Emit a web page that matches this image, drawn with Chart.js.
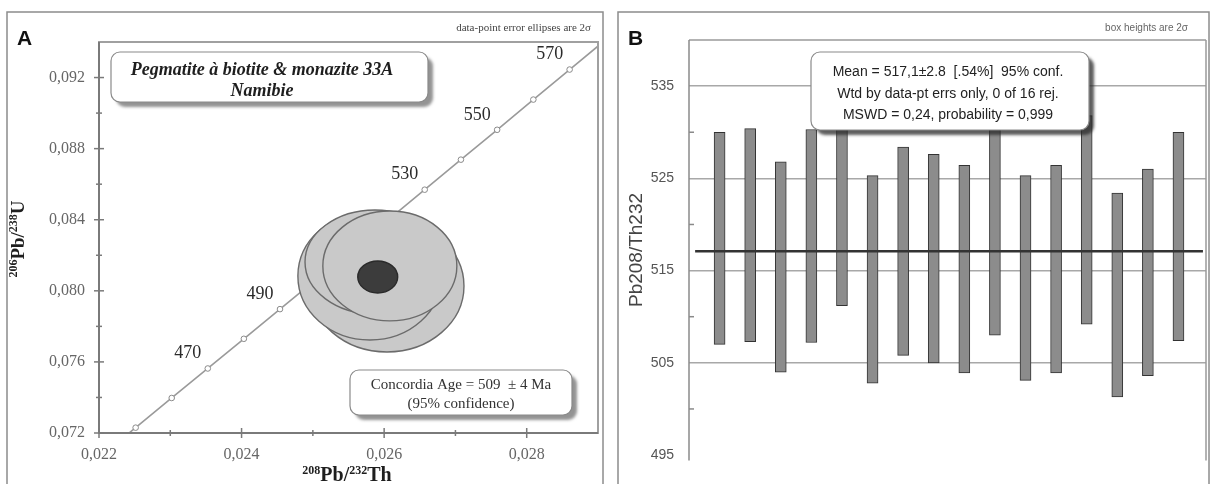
<!DOCTYPE html>
<html>
<head>
<meta charset="utf-8">
<script src="https://cdn.jsdelivr.net/npm/chart.js@4.4.1/dist/chart.umd.min.js"></script>
<style>
  html, body { margin: 0; padding: 0; background: #fff; overflow: hidden; }
  #wrap { position: relative; width: 1210px; height: 484px; }
  canvas { position: absolute; top: 0; }
  #chartA { left: 0; }
  #chartB { left: 610px; }
</style>
</head>
<body>
<div id="wrap">
  <canvas id="chartA" width="610" height="484"></canvas>
  <canvas id="chartB" width="600" height="484"></canvas>
</div>
<script>
// ---- Panel A: concordia diagram ----
const concordiaAges = [440, 450, 460, 470, 480, 490, 500, 510, 520, 530, 540, 550, 560, 570, 580];
const concordiaX = [0.022008, 0.022514, 0.023020, 0.023526, 0.024032, 0.024539, 0.025047, 0.025553,
                    0.026061, 0.026569, 0.027077, 0.027585, 0.028093, 0.028602, 0.029112];
const concordiaY = [0.07064, 0.07230, 0.07397, 0.07563, 0.07730, 0.07897, 0.08065, 0.08233,
                    0.08401, 0.08569, 0.08738, 0.08906, 0.09076, 0.09245, 0.09414];
const ageLabels = [470, 490, 530, 550, 570];

// data-point error ellipses (centre and semi-axes, in ratio units)
const ellipseX  = [0.02604, 0.02580, 0.02587, 0.02608];
const ellipseY  = [0.08027, 0.08083, 0.08162, 0.08140];
const ellipseRx = [0.00108, 0.00101, 0.00098, 0.00094];
const ellipseRy = [0.00371, 0.00360, 0.00293, 0.00309];

// concordia age ellipse
const concordiaAgeX = 0.02591;
const concordiaAgeY = 0.08078;
const concordiaAgeRx = 0.00028;
const concordiaAgeRy = 0.00090;

const xMajorTicks = [0.022, 0.024, 0.026, 0.028];
const xMinorTicks = [0.023, 0.025, 0.027];
const yMajorTicks = [0.072, 0.076, 0.080, 0.084, 0.088, 0.092];
const yMinorTicks = [0.074, 0.078, 0.082, 0.086, 0.090];

// ---- Panel B: weighted mean of Pb208/Th232 ages ----
const grainIndex = [1, 2, 3, 4, 5, 6, 7, 8, 9, 10, 11, 12, 13, 14, 15, 16];
const ageLow  = [507.0, 507.3, 504.0, 507.2, 511.2, 502.8, 505.8, 505.0, 503.9, 508.0, 503.1, 503.9, 509.2, 501.3, 503.6, 507.4];
const ageHigh = [530.0, 530.4, 526.8, 530.3, 533.5, 525.3, 528.4, 527.6, 526.4, 531.5, 525.3, 526.4, 531.8, 523.4, 526.0, 530.0];
const weightedMean = 517.1;
const meanLineX = [0.2, 16.8];
const bMajorTicks = [495, 505, 515, 525, 535];
const bMinorTicks = [500, 510, 520, 530];

const SERIF = '"Liberation Serif", "Times New Roman", serif';
const SANS = '"Liberation Sans", Arial, sans-serif';

function roundRect(ctx, x, y, w, h, r) {
    ctx.beginPath();
    ctx.moveTo(x + r, y);
    ctx.arcTo(x + w, y, x + w, y + h, r);
    ctx.arcTo(x + w, y + h, x, y + h, r);
    ctx.arcTo(x, y + h, x, y, r);
    ctx.arcTo(x, y, x + w, y, r);
    ctx.closePath();
}

function drawNoteBox(ctx, x, y, w, h, shadow) {
    ctx.save();
    roundRect(ctx, x, y, w, h, 9);
    ctx.shadowColor = shadow;
    ctx.shadowOffsetX = 5;
    ctx.shadowOffsetY = 5;
    ctx.shadowBlur = 3;
    ctx.fillStyle = '#fff';
    ctx.fill();
    ctx.restore();
    ctx.save();
    roundRect(ctx, x, y, w, h, 9);
    ctx.strokeStyle = '#8a8a8a';
    ctx.lineWidth = 1.2;
    ctx.stroke();
    ctx.restore();
}

function line(ctx, x1, y1, x2, y2) {
    ctx.beginPath();
    ctx.moveTo(x1, y1);
    ctx.lineTo(x2, y2);
    ctx.stroke();
}

// text with superscript mass numbers, centred on cx
function drawIsotopeText(ctx, parts, cx, baseline, size) {
    const big = `bold ${size}px ${SERIF}`;
    const small = `bold ${Math.round(size * 0.62)}px ${SERIF}`;
    let total = 0;
    parts.forEach(([t, sup]) => { ctx.font = sup ? small : big; total += ctx.measureText(t).width; });
    let x = cx - total / 2;
    ctx.textAlign = 'left';
    ctx.textBaseline = 'alphabetic';
    parts.forEach(([t, sup]) => {
        ctx.font = sup ? small : big;
        ctx.fillText(t, x, baseline - (sup ? size * 0.36 : 0));
        x += ctx.measureText(t).width;
    });
}

function drawDataEllipse(ctx, xs, ys, cx, cy, rx, ry, fill, stroke) {
    const px = xs.getPixelForValue(cx);
    const py = ys.getPixelForValue(cy);
    const prx = Math.abs(xs.getPixelForValue(cx + rx) - px);
    const pry = Math.abs(ys.getPixelForValue(cy + ry) - py);
    ctx.beginPath();
    ctx.ellipse(px, py, prx, pry, 0, 0, Math.PI * 2);
    ctx.fillStyle = fill;
    ctx.fill();
    ctx.lineWidth = 1.4;
    ctx.strokeStyle = stroke;
    ctx.stroke();
}

const commaFormat = (v) => v.toFixed(3).replace('.', ',');

const concordiaDecor = {
    id: 'concordiaDecor',
    afterDatasetsDraw(chart) {
        const { ctx, chartArea: a, scales: { x, y } } = chart;
        ctx.save();
        ctx.beginPath();
        ctx.rect(a.left, a.top, a.right - a.left, a.bottom - a.top);
        ctx.clip();
        for (let i = 0; i < ellipseX.length; i++) {
            drawDataEllipse(ctx, x, y, ellipseX[i], ellipseY[i], ellipseRx[i], ellipseRy[i], '#c9c9c9', '#6b6b6b');
        }
        drawDataEllipse(ctx, x, y, concordiaAgeX, concordiaAgeY, concordiaAgeRx, concordiaAgeRy, '#3c3c3c', '#2a2a2a');
        ctx.restore();

        // age labels beside their markers
        ctx.save();
        ctx.font = `18px ${SERIF}`;
        ctx.fillStyle = '#2b2b2b';
        ctx.textAlign = 'center';
        ctx.textBaseline = 'middle';
        ageLabels.forEach(age => {
            const i = concordiaAges.indexOf(age);
            ctx.fillText(String(age), x.getPixelForValue(concordiaX[i]) - 20, y.getPixelForValue(concordiaY[i]) - 15);
        });
        ctx.restore();
    },
    afterDraw(chart) {
        const { ctx, chartArea: a, scales: { x, y } } = chart;
        ctx.save();
        // plot frame and axes
        ctx.strokeStyle = '#a0a0a0';
        ctx.lineWidth = 2;
        ctx.strokeRect(a.left, a.top, a.right - a.left, a.bottom - a.top);
        ctx.strokeStyle = '#7a7a7a';
        line(ctx, a.left, a.top, a.left, a.bottom);
        line(ctx, a.left, a.bottom, a.right, a.bottom);

        // tick marks crossing the axes
        ctx.lineWidth = 1.5;
        xMajorTicks.forEach(v => { const px = x.getPixelForValue(v); line(ctx, px, a.bottom - 5, px, a.bottom + 5); });
        xMinorTicks.forEach(v => { const px = x.getPixelForValue(v); line(ctx, px, a.bottom - 3, px, a.bottom + 3); });
        yMajorTicks.forEach(v => { const py = y.getPixelForValue(v); line(ctx, a.left - 5, py, a.left + 5, py); });
        yMinorTicks.forEach(v => { const py = y.getPixelForValue(v); line(ctx, a.left - 3, py, a.left + 3, py); });

        // axis titles
        ctx.fillStyle = '#1e1e1e';
        drawIsotopeText(ctx, [['208', true], ['Pb/', false], ['232', true], ['Th', false]], 347, 481, 20);
        ctx.save();
        ctx.translate(18, 239);
        ctx.rotate(-Math.PI / 2);
        drawIsotopeText(ctx, [['206', true], ['Pb/', false], ['238', true], ['U', false]], 0, 6, 19);
        ctx.restore();

        // sample box
        drawNoteBox(ctx, 111, 52, 317, 50, 'rgba(120,120,120,0.8)');
        ctx.fillStyle = '#1e1e1e';
        ctx.textAlign = 'center';
        ctx.textBaseline = 'middle';
        ctx.font = `italic bold 18px ${SERIF}`;
        ctx.fillText('Pegmatite à biotite & monazite 33A', 262, 70);
        ctx.fillText('Namibie', 262, 91);

        // concordia age box
        drawNoteBox(ctx, 350, 370, 222, 45, 'rgba(120,120,120,0.8)');
        ctx.fillStyle = '#333';
        ctx.font = `15px ${SERIF}`;
        ctx.fillText('Concordia Age = 509  ± 4 Ma', 461, 385);
        ctx.fillText('(95% confidence)', 461, 404);

        // panel letter and note
        ctx.fillStyle = '#111';
        ctx.textAlign = 'left';
        ctx.textBaseline = 'alphabetic';
        ctx.font = `bold 21px ${SANS}`;
        ctx.fillText('A', 17, 45);
        ctx.fillStyle = '#444';
        ctx.textAlign = 'right';
        ctx.font = `11px ${SERIF}`;
        ctx.fillText('data-point error ellipses are 2σ', 591, 31);

        // outer frame
        ctx.strokeStyle = '#8c8c8c';
        ctx.lineWidth = 1.5;
        ctx.strokeRect(7, 12, 596, 500);
        ctx.restore();
    }
};

const chartA = new Chart(document.getElementById('chartA'), {
    type: 'scatter',
    data: {
        datasets: [{
            data: concordiaX.map((v, i) => ({ x: v, y: concordiaY[i] })),
            showLine: true,
            borderColor: '#9a9a9a',
            borderWidth: 1.6,
            pointRadius: (c) => (c.dataIndex === 0 || c.dataIndex === concordiaX.length - 1) ? 0 : 2.8,
            pointBackgroundColor: '#fff',
            pointBorderColor: '#8a8a8a',
            pointBorderWidth: 1
        }]
    },
    options: {
        responsive: false,
        animation: false,
        events: [],
        layout: { padding: { left: 0, right: 12, top: 42, bottom: 0 } },
        plugins: { legend: { display: false }, tooltip: { enabled: false } },
        scales: {
            x: {
                type: 'linear', min: 0.022, max: 0.029,
                grid: { display: false, drawTicks: false },
                border: { display: false },
                afterBuildTicks: (s) => { s.ticks = xMajorTicks.map(v => ({ value: v })); },
                afterFit: (s) => { s.height = 51; },
                ticks: { callback: commaFormat, padding: 12, color: '#666', font: { family: SERIF, size: 16 }, maxRotation: 0 }
            },
            y: {
                type: 'linear', min: 0.072, max: 0.094,
                grid: { display: false, drawTicks: false },
                border: { display: false },
                afterBuildTicks: (s) => { s.ticks = yMajorTicks.map(v => ({ value: v })); },
                afterFit: (s) => { s.width = 99; },
                ticks: { callback: commaFormat, padding: 14, color: '#666', font: { family: SERIF, size: 16 } }
            }
        }
    },
    plugins: [concordiaDecor]
});

const meanDecor = {
    id: 'meanDecor',
    afterDraw(chart) {
        const { ctx, chartArea: a, scales: { y } } = chart;
        ctx.save();
        ctx.strokeStyle = '#9a9a9a';
        ctx.lineWidth = 1.5;
        line(ctx, a.left, a.top, a.right, a.top);
        line(ctx, a.right, a.top, a.right, a.bottom);
        ctx.strokeStyle = '#8a8a8a';
        line(ctx, a.left, a.top, a.left, a.bottom);
        bMinorTicks.forEach(v => { const py = y.getPixelForValue(v); line(ctx, a.left, py, a.left + 5, py); });

        // result box
        drawNoteBox(ctx, 201, 52, 278, 78, 'rgba(40,40,40,0.75)');
        ctx.fillStyle = '#222';
        ctx.textAlign = 'center';
        ctx.textBaseline = 'middle';
        ctx.font = `14px ${SANS}`;
        ctx.fillText('Mean = 517,1±2.8  [.54%]  95% conf.', 338, 72);
        ctx.fillText('Wtd by data-pt errs only, 0 of 16 rej.', 338, 94);
        ctx.fillText('MSWD = 0,24, probability = 0,999', 338, 115);

        // y title
        ctx.save();
        ctx.translate(27, 250);
        ctx.rotate(-Math.PI / 2);
        ctx.fillStyle = '#444';
        ctx.font = `19px ${SANS}`;
        ctx.fillText('Pb208/Th232', 0, 0);
        ctx.restore();

        ctx.fillStyle = '#111';
        ctx.textAlign = 'left';
        ctx.textBaseline = 'alphabetic';
        ctx.font = `bold 21px ${SANS}`;
        ctx.fillText('B', 18, 45);
        ctx.fillStyle = '#666';
        ctx.textAlign = 'right';
        ctx.font = `10px ${SANS}`;
        ctx.fillText('box heights are 2σ', 578, 31);

        ctx.strokeStyle = '#8c8c8c';
        ctx.lineWidth = 1.5;
        ctx.strokeRect(8, 12, 591, 500);
        ctx.restore();
    }
};

const chartB = new Chart(document.getElementById('chartB'), {
    type: 'bar',
    data: {
        datasets: [
            {
                type: 'bar',
                order: 2,
                data: grainIndex.map((g, i) => ({ x: g, y: [ageLow[i], ageHigh[i]] })),
                backgroundColor: '#8c8c8c',
                borderColor: '#333',
                borderWidth: 1,
                borderSkipped: false,
                barThickness: 11
            },
            {
                type: 'line',
                order: 1,
                data: meanLineX.map(v => ({ x: v, y: weightedMean })),
                borderColor: '#333',
                borderWidth: 2.5,
                pointRadius: 0
            }
        ]
    },
    options: {
        responsive: false,
        animation: false,
        events: [],
        layout: { padding: { left: 0, right: 4, top: 40, bottom: 0 } },
        plugins: { legend: { display: false }, tooltip: { enabled: false } },
        scales: {
            x: { type: 'linear', min: 0, max: 16.9, offset: false, display: false },
            y: {
                type: 'linear', min: 494.4, max: 540,
                afterBuildTicks: (s) => { s.ticks = bMajorTicks.map(v => ({ value: v })); },
                afterFit: (s) => { s.width = 79; },
                border: { display: false },
                grid: {
                    drawTicks: false,
                    lineWidth: 1.5,
                    color: (c) => (c.tick && c.tick.value !== 495) ? '#a8a8a8' : 'rgba(0,0,0,0)'
                },
                ticks: { padding: 15, color: '#555', font: { family: SANS, size: 14 } }
            }
        }
    },
    plugins: [meanDecor]
});
</script>
</body>
</html>
